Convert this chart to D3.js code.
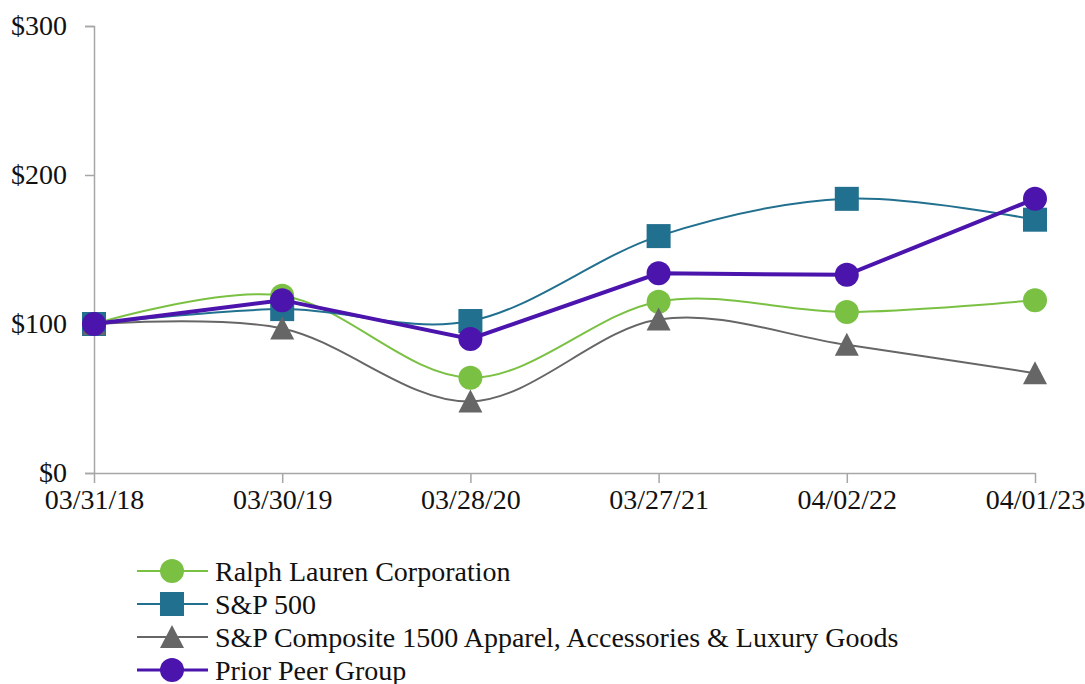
<!DOCTYPE html>
<html><head><meta charset="utf-8">
<script src="https://cdn.jsdelivr.net/npm/d3@7"></script>
<style>body{margin:0;background:#fff}svg{display:block}
text{font-family:"Liberation Serif","Times New Roman",Times,"DejaVu Serif",serif !important;}</style>
</head><body>
<svg id="c" width="1085" height="684"></svg>
<script>
const dates = ["03/31/18","03/30/19","03/28/20","03/27/21","04/02/22","04/01/23"];
const ralphLauren = [100, 119, 64, 115, 108, 116];
const sp500 = [100, 110, 102, 159, 184, 170];
const spApparel = [100, 97, 48, 103, 86, 67];
const priorPeer = [100, 116, 90, 134, 133, 184];
const yTicks = [0, 100, 200, 300];
const seriesNames = ["Ralph Lauren Corporation","S&P 500","S&P Composite 1500 Apparel, Accessories & Luxury Goods","Prior Peer Group"];

const series = [
  {name: seriesNames[0], values: ralphLauren, color: "#7ac143", width: 2, marker: "circle", smooth: true},
  {name: seriesNames[1], values: sp500, color: "#22708f", width: 2, marker: "square", smooth: true},
  {name: seriesNames[2], values: spApparel, color: "#666666", width: 2, marker: "triangle", smooth: true},
  {name: seriesNames[3], values: priorPeer, color: "#4b14ac", width: 4, marker: "circle", smooth: false}
];

const svg = d3.select("#c");
const x = d3.scalePoint().domain(dates).range([94, 1035]);
const y = d3.scaleLinear().domain([0, 300]).range([473, 26]);
const axisColor = "#a6a6a6";
const fs = 28;

// y axis
const ya = svg.append("g").attr("transform","translate(94,0)")
  .call(d3.axisLeft(y).tickValues(yTicks).tickSize(9).tickPadding(18).tickFormat(d => "$" + d));
ya.select(".domain").attr("stroke", axisColor).attr("stroke-width", 1.5);
ya.selectAll(".tick line").attr("stroke", axisColor).attr("stroke-width", 1.5);
ya.selectAll("text").attr("font-size", fs).attr("fill", "#111");

// x axis
const xa = svg.append("g").attr("transform","translate(0,473)")
  .call(d3.axisBottom(x).tickSize(10).tickSizeOuter(0).tickPadding(6));
xa.select(".domain").attr("stroke", axisColor).attr("stroke-width", 1.5);
xa.selectAll(".tick line").attr("stroke", axisColor).attr("stroke-width", 1.5);
xa.selectAll("text").attr("font-size", fs).attr("fill", "#111");

function drawMarker(g, type, cx, cy, color) {
  if (type === "circle") {
    g.append("circle").attr("cx", cx).attr("cy", cy).attr("r", 12).attr("fill", color);
  } else if (type === "square") {
    g.append("rect").attr("x", cx - 12).attr("y", cy - 12).attr("width", 24).attr("height", 24).attr("fill", color);
  } else {
    g.append("path").attr("d", `M${cx},${cy-12}L${cx+12},${cy+11}L${cx-12},${cy+11}Z`).attr("fill", color);
  }
}

series.forEach(s => {
  const line = d3.line().x((d, i) => x(dates[i])).y(d => y(d))
    .curve(s.smooth ? d3.curveCardinal.tension(0) : d3.curveLinear);
  const g = svg.append("g");
  g.append("path").attr("d", line(s.values)).attr("fill", "none")
    .attr("stroke", s.color).attr("stroke-width", s.width);
  s.values.forEach((v, i) => drawMarker(g, s.marker, x(dates[i]), y(v), s.color));
});

// legend
const lg = svg.append("g");
series.forEach((s, i) => {
  const cy = 571 + i * 33;
  lg.append("line").attr("x1", 137).attr("x2", 208).attr("y1", cy).attr("y2", cy)
    .attr("stroke", s.color).attr("stroke-width", s.width === 4 ? 3 : 2);
  drawMarker(lg, s.marker, 172, cy, s.color);
  lg.append("text").attr("x", 215).attr("y", cy).attr("dy", "0.35em")
    .attr("font-size", fs).attr("fill", "#111").text(s.name);
});
</script>
</body></html>
